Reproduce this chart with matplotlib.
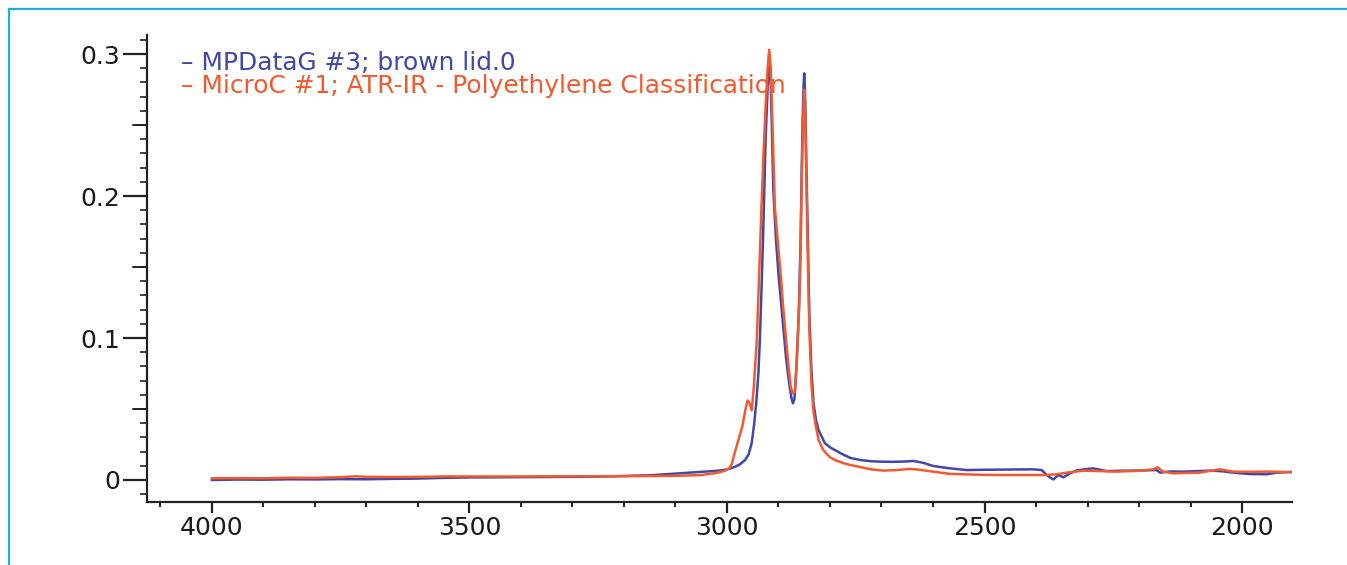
import matplotlib
matplotlib.use("Agg")
import matplotlib.pyplot as plt
from matplotlib.ticker import MultipleLocator, FuncFormatter
from matplotlib.lines import Line2D

plt.rcParams['font.family'] = ['DejaVu Sans']

blue_label = "MPDataG #3; brown lid.0"
red_label = "MicroC #1; ATR-IR - Polyethylene Classification"

blue_wn = [4000, 3950, 3900, 3850, 3800, 3750, 3700, 3650, 3600, 3550, 3500, 3450, 3400,
           3350, 3300, 3250, 3200, 3150, 3100, 3060, 3030, 3010, 3004, 2995, 2985, 2975,
           2965, 2958, 2952, 2947, 2943, 2939, 2936, 2933, 2930, 2927.5, 2925, 2922.5,
           2920, 2918, 2916, 2913, 2910, 2905, 2900, 2895, 2890, 2885, 2880, 2875, 2872,
           2869, 2865, 2862, 2860, 2857, 2855, 2853, 2851, 2850, 2848.5, 2846, 2843, 2840,
           2836, 2832, 2827, 2822, 2810, 2800, 2790, 2775, 2760, 2740, 2720, 2700, 2680,
           2664, 2650, 2638, 2620, 2599, 2567, 2535, 2500, 2470, 2440, 2405, 2389, 2379,
           2372, 2366, 2357, 2347, 2334, 2320, 2302, 2289, 2263, 2240, 2211, 2185, 2166,
           2159, 2140, 2114, 2085, 2056, 2035, 2017, 1985, 1952, 1933, 1904]
blue_val = [0.0000, 0.0003, 0.0002, 0.0005, 0.0004, 0.0006, 0.0005, 0.0008, 0.0010,
            0.0015, 0.0018, 0.0019, 0.0020, 0.0021, 0.0022, 0.0024, 0.0028, 0.0033,
            0.0045, 0.0055, 0.0062, 0.0068, 0.0072, 0.0080, 0.0092, 0.0110, 0.0140,
            0.0180, 0.0260, 0.0400, 0.0550, 0.0750, 0.1000, 0.1340, 0.1700, 0.2040,
            0.2400, 0.2630, 0.2850, 0.3000, 0.2900, 0.2500, 0.2040, 0.1700, 0.1450,
            0.1250, 0.1050, 0.0850, 0.0700, 0.0580, 0.0540, 0.0570, 0.0800, 0.1050,
            0.1250, 0.1700, 0.2160, 0.2550, 0.2800, 0.2864, 0.2750, 0.2250, 0.1700,
            0.1150, 0.0780, 0.0540, 0.0420, 0.0350, 0.0260, 0.0230, 0.0210, 0.0180,
            0.0155, 0.0140, 0.0132, 0.0129, 0.0128, 0.0129, 0.0131, 0.0134, 0.0122,
            0.0098, 0.0082, 0.0070, 0.0072, 0.0073, 0.0074, 0.0075, 0.0070, 0.0035,
            0.0015, 0.0004, 0.0035, 0.0019, 0.0047, 0.0068, 0.0077, 0.0082, 0.0063,
            0.0065, 0.0066, 0.0068, 0.0070, 0.0052, 0.0060, 0.0059, 0.0063, 0.0066,
            0.0060, 0.0052, 0.0042, 0.0040, 0.0052, 0.0056]

red_wn = [4000, 3950, 3900, 3850, 3800, 3750, 3720, 3700, 3650, 3600, 3550, 3500, 3400,
          3300, 3200, 3100, 3050, 3020, 3004, 2995, 2991, 2985, 2978, 2970, 2964, 2960,
          2956, 2952, 2948, 2945, 2942, 2938, 2933, 2929, 2925, 2921, 2918, 2915, 2912,
          2907, 2900, 2895, 2891, 2885, 2880, 2876, 2872, 2868, 2865, 2860, 2857, 2855,
          2852, 2850, 2848.5, 2846, 2843, 2840, 2836, 2832, 2827, 2822, 2813, 2800, 2790,
          2775, 2761, 2740, 2720, 2697, 2670, 2645, 2630, 2600, 2567, 2500, 2450, 2386,
          2360, 2340, 2308, 2270, 2243, 2200, 2172, 2164, 2153, 2133, 2100, 2082, 2060,
          2043, 2017, 1990, 1952, 1904]
red_val = [0.0012, 0.0013, 0.0012, 0.0016, 0.0015, 0.0020, 0.0026, 0.0022, 0.0021,
           0.0022, 0.0025, 0.0025, 0.0025, 0.0026, 0.0027, 0.0029, 0.0035, 0.0050,
           0.0065, 0.0085, 0.0110, 0.0190, 0.0280, 0.0380, 0.0500, 0.0560, 0.0540,
           0.0490, 0.0650, 0.0820, 0.0990, 0.1400, 0.1920, 0.2300, 0.2630, 0.2900,
           0.3030, 0.2900, 0.2550, 0.1920, 0.1620, 0.1420, 0.1220, 0.0980, 0.0780,
           0.0650, 0.0610, 0.0620, 0.0800, 0.1200, 0.1600, 0.2100, 0.2550, 0.2750,
           0.2650, 0.2150, 0.1550, 0.1050, 0.0680, 0.0480, 0.0370, 0.0280, 0.0210,
           0.0160, 0.0140, 0.0120, 0.0106, 0.0090, 0.0075, 0.0066, 0.0070, 0.0078,
           0.0074, 0.0059, 0.0043, 0.0036, 0.0035, 0.0035, 0.0040, 0.0052, 0.0066,
           0.0062, 0.0059, 0.0065, 0.0075, 0.0089, 0.0059, 0.0047, 0.0050, 0.0052,
           0.0065, 0.0075, 0.0059, 0.0058, 0.0059, 0.0056]

x_major = [4000, 3500, 3000, 2500, 2000]
y_major = [0.0, 0.1, 0.2, 0.3]
y_medium = [0.05, 0.15, 0.25]

BLUE = '#3F48AA'
RED = '#F25A2E'
DARK = '#222222'

W, H = 1347, 565
fig = plt.figure(figsize=(W / 100, H / 100), dpi=100)
ax = fig.add_axes([147 / W, 1 - 502 / H, (1292 - 147) / W, (502 - 35) / H])

ax.plot(blue_wn, blue_val, color=BLUE, lw=1.8, zorder=2)
ax.plot(red_wn, red_val, color=RED, lw=1.8, zorder=3)

ax.set_xlim(4126, 1903)
ax.set_ylim(-0.0155, 0.3134)

for s in ['top', 'right']:
    ax.spines[s].set_visible(False)
for s in ['left', 'bottom']:
    ax.spines[s].set_linewidth(1.6)
    ax.spines[s].set_color(DARK)

ax.set_xticks(x_major)
ax.xaxis.set_minor_locator(MultipleLocator(100))
ax.set_yticks(y_major)
ax.yaxis.set_minor_locator(MultipleLocator(0.01))
ax.yaxis.set_major_formatter(FuncFormatter(lambda v, p: '0' if abs(v) < 1e-9 else f'{v:.1f}'))
ax.tick_params(axis='x', which='major', length=8, width=1.6, color=DARK, labelsize=18,
               pad=2, labelcolor='#1a1a1a')
ax.tick_params(axis='x', which='minor', length=3.6, width=1.4, color=DARK)
ax.tick_params(axis='y', which='major', length=17, width=1.6, color=DARK, labelsize=18,
               pad=2, labelcolor='#1a1a1a')
ax.tick_params(axis='y', which='minor', length=5, width=1.2, color=DARK)
for v in y_medium:
    ax.annotate('', xy=(0, v), xycoords=('axes fraction', 'data'),
                xytext=(-14, 0), textcoords='offset pixels',
                arrowprops=dict(arrowstyle='-', color=DARK, lw=1.4, shrinkA=0, shrinkB=0),
                annotation_clip=False)

# legend as coloured text, sized to match the reference widths
t_blue = fig.text(181 / W, 1 - 63 / H, '– ' + blue_label, color=BLUE,
                  fontsize=16, va='center', ha='left')
t_red = fig.text(181 / W, 1 - 86 / H, '– ' + red_label, color=RED,
                 fontsize=16, va='center', ha='left')
fig.canvas.draw()
r = fig.canvas.get_renderer()
w_red = t_red.get_window_extent(r).width
fs = 16 * (786 - 181) / w_red
t_red.set_fontsize(fs)
t_blue.set_fontsize(fs)

frame_col = '#1AAFE8'
fig.add_artist(Line2D([9 / W, 1.0], [1 - 8.5 / H, 1 - 8.5 / H], transform=fig.transFigure,
                      color=frame_col, lw=1.6))
fig.add_artist(Line2D([9 / W, 9 / W], [0, 1 - 8.5 / H], transform=fig.transFigure,
                      color=frame_col, lw=1.6))

fig.savefig('out.png', dpi=100)
